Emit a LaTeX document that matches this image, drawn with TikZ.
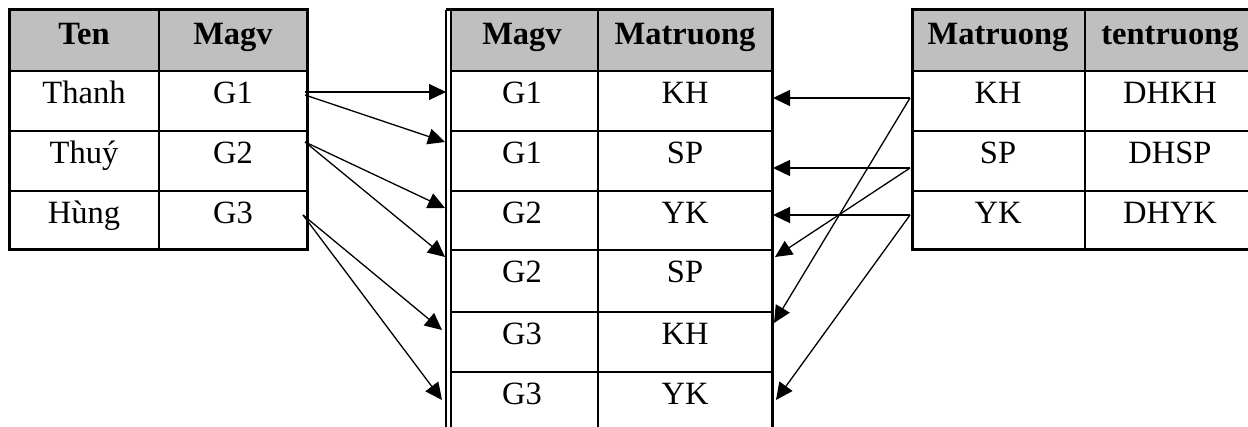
\documentclass[tikz,border=0pt]{standalone}
\usepackage{fontspec}
\setmainfont{Liberation Serif}
\usetikzlibrary{arrows.meta}
\begin{document}
\begin{tikzpicture}[x=1pt,y=-1pt,
  hdr/.style={fill=black!25},
  grid/.style={line width=1.4pt},
  frame/.style={line width=3pt},
  cell/.style={anchor=base,inner sep=0pt,font=\fontsize{32.5}{36}\selectfont},
  head/.style={cell,font=\fontsize{32.5}{36}\selectfont\bfseries},
  conn/.style={line width=1.3pt,-{Triangle[length=17pt,width=16pt]}}]
\useasboundingbox (0,0) rectangle (1248,427);
% ---------- left table ----------
\fill[hdr] (9,10) rectangle (307,71);
\draw[grid] (159,10) -- (159,250);
\foreach \y in {71,131,191} \draw[grid] (9,\y) -- (307,\y);
\draw[frame] (9,10) rectangle (307,250);
\node[head] (lh1) at (84,45) {Ten};
\node[head] (lh2) at (233,45) {Magv};
\node[cell] (l11) at (84,104) {Thanh};
\node[cell] (l12) at (233,104) {G1};
\node[cell] (l21) at (84,164) {Thuý};
\node[cell] (l22) at (233,164) {G2};
\node[cell] (l31) at (84,224) {Hùng};
\node[cell] (l32) at (233,224) {G3};
% ---------- middle table ----------
\fill[hdr] (451,10) rectangle (772,71);
\draw[grid] (598,10) -- (598,430);
\foreach \y in {71,131,191,250,312,372} \draw[grid] (451,\y) -- (772,\y);
\draw[line width=1.2pt] (446,10) -- (446,430);
\draw[line width=1.2pt] (451,10) -- (451,430);
\draw[frame] (446,10) -- (772,10);
\draw[frame] (772,8.5) -- (772,430);
\node[head] (mh1) at (522,45) {Magv};
\node[head] (mh2) at (685,45) {Matruong};
\foreach \i/\a/\b/\t in {1/G1/KH/71,2/G1/SP/131,3/G2/YK/191,4/G2/SP/250,5/G3/KH/312,6/G3/YK/372}{
  \node[cell] (m\i1) at (522,\t+33) {\a};
  \node[cell] (m\i2) at (685,\t+33) {\b};
}
% ---------- right table ----------
\fill[hdr] (912,10) rectangle (1260,71);
\draw[grid] (1085,10) -- (1085,250);
\foreach \y in {71,131,191} \draw[grid] (912,\y) -- (1260,\y);
\draw[frame] (1260,10) -- (912,10) -- (912,250) -- (1260,250);
\node[head] (rh1) at (998,45) {Matruong};
\node[head] (rh2) at (1170,45) {tentruong};
\node[cell] (r11) at (998,104) {KH};
\node[cell] (r12) at (1170,104) {DHKH};
\node[cell] (r21) at (998,164) {SP};
\node[cell] (r22) at (1170,164) {DHSP};
\node[cell] (r31) at (998,224) {YK};
\node[cell] (r32) at (1170,224) {DHYK};
% ---------- connector end points ----------
\coordinate (sa) at (305,92);
\coordinate (sb) at (305,95);
\coordinate (sc) at (305,142);
\coordinate (sd) at (303,215);
\coordinate (ta1) at (446,92);
\coordinate (ta2) at (445,142);
\coordinate (ta3) at (445,208);
\coordinate (ta4) at (445,257);
\coordinate (ta5) at (442,330);
\coordinate (ta6) at (442,400);
\coordinate (rk) at (910,98);
\coordinate (rs) at (910,168);
\coordinate (ry) at (910,215);
\coordinate (tb1) at (773,98);
\coordinate (tb2) at (773,168);
\coordinate (tb3) at (773,215);
\coordinate (tb4) at (775,257);
\coordinate (tb5) at (774,323);
\coordinate (tb6) at (776,400);
% ---------- connectors ----------
\draw[conn] (sa) -- (ta1);
\draw[conn] (sb) -- (ta2);
\draw[conn] (sc) -- (ta3);
\draw[conn] (sc) -- (ta4);
\draw[conn] (sd) -- (ta5);
\draw[conn] (sd) -- (ta6);
\draw[conn] (rk) -- (tb1);
\draw[conn] (rk) -- (tb5);
\draw[conn] (rs) -- (tb2);
\draw[conn] (rs) -- (tb4);
\draw[conn] (ry) -- (tb3);
\draw[conn] (ry) -- (tb6);
\end{tikzpicture}
\end{document}
